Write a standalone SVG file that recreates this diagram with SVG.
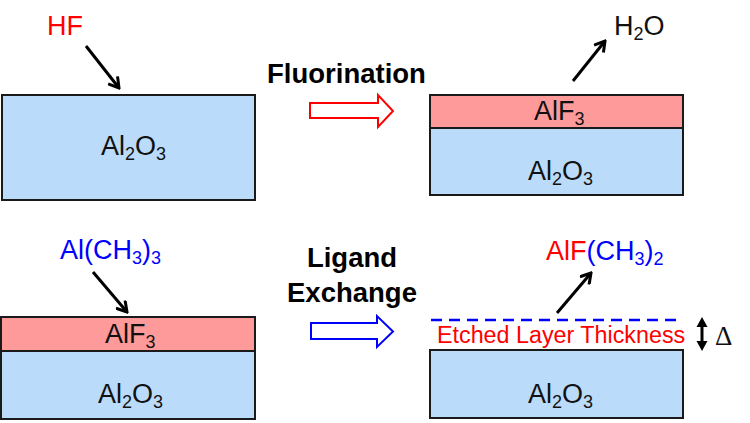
<svg xmlns="http://www.w3.org/2000/svg" width="750" height="423" viewBox="0 0 750 423">
<style>
text{font-family:"Liberation Sans",Arial,sans-serif;font-size:27px;fill:#111}
.sub{font-size:18px}
.red{fill:#ff0000}
.blue{fill:#0000ff}
.bold{font-weight:bold;fill:#000;font-size:27.5px}
.al2o3{fill:#bbdbfa;stroke:#1a1a1a;stroke-width:2}
.alf3{fill:#fe9a9a;stroke:#1a1a1a;stroke-width:2}
.conn{stroke:#000;stroke-width:3;fill:none;marker-end:url(#head)}
</style>
<defs>
<marker id="head" viewBox="0 0 14 14" refX="12" refY="7" markerWidth="14" markerHeight="14" markerUnits="userSpaceOnUse" orient="auto">
<path d="M2,1 L12,7 L2,13" fill="none" stroke="#000" stroke-width="3"/>
</marker>
</defs>

<g id="hf-label"><text x="47" y="35" class="red">HF</text></g>

<g id="substrate-1">
<rect x="2" y="95" width="253" height="105" class="al2o3"/>
<text x="101" y="155">Al<tspan class="sub" dy="5">2</tspan><tspan dy="-5">O</tspan><tspan class="sub" dy="5">3</tspan></text>
</g>

<g id="fluorination">
<text x="267" y="83" class="bold">Fluorination</text>
<polygon points="310,103 378,103 378,95 393,111 378,127 378,118 310,118" fill="#fff" stroke="#ff0000" stroke-width="2"/>
</g>

<g id="h2o-label"><text x="614" y="35">H<tspan class="sub" dy="5">2</tspan><tspan dy="-5">O</tspan></text></g>

<g id="substrate-2">
<rect x="430" y="128" width="253" height="67" class="al2o3"/>
<rect x="430" y="95" width="253" height="33" class="alf3"/>
<text x="534" y="120">AlF<tspan class="sub" dy="5">3</tspan></text>
<text x="528" y="180">Al<tspan class="sub" dy="5">2</tspan><tspan dy="-5">O</tspan><tspan class="sub" dy="5">3</tspan></text>
</g>

<g id="tma-label"><text x="60" y="259" class="blue">Al(CH<tspan class="sub" dy="5">3</tspan><tspan dy="-5">)</tspan><tspan class="sub" dy="5">3</tspan></text></g>

<g id="substrate-3">
<rect x="1" y="351" width="254" height="68" class="al2o3"/>
<rect x="1" y="317" width="254" height="34" class="alf3"/>
<text x="105" y="343">AlF<tspan class="sub" dy="5">3</tspan></text>
<text x="98" y="403">Al<tspan class="sub" dy="5">2</tspan><tspan dy="-5">O</tspan><tspan class="sub" dy="5">3</tspan></text>
</g>

<g id="ligand-exchange">
<text x="352" y="267" class="bold" text-anchor="middle">Ligand</text>
<text x="352" y="302" class="bold" text-anchor="middle">Exchange</text>
<polygon points="311,323 377,323 377,316 393,331.5 377,347 377,339 311,339" fill="#fff" stroke="#0000ff" stroke-width="2"/>
</g>

<g id="product-label"><text x="546" y="260"><tspan class="red">AlF</tspan><tspan class="blue">(CH</tspan><tspan class="sub blue" dy="5">3</tspan><tspan class="blue" dy="-5">)</tspan><tspan class="sub blue" dy="5">2</tspan></text></g>

<g id="substrate-4">
<line x1="431" y1="320" x2="678" y2="320" stroke="#0000ff" stroke-width="2.5" stroke-dasharray="11 7"/>
<text x="437" y="343" class="red" style="font-size:23.3px">Etched Layer Thickness</text>
<rect x="430" y="350" width="253" height="68" class="al2o3"/>
<text x="528" y="403">Al<tspan class="sub" dy="5">2</tspan><tspan dy="-5">O</tspan><tspan class="sub" dy="5">3</tspan></text>
</g>

<g id="thickness">
<line x1="702" y1="324" x2="702" y2="344" stroke="#000" stroke-width="3"/>
<polygon points="702,317 696.5,327 707.5,327" fill="#000"/>
<polygon points="702,351 696.5,341 707.5,341" fill="#000"/>
<text x="715" y="345" style="font-family:'Liberation Serif','Times New Roman',serif;font-size:27px">Δ</text>
</g>

<g id="connectors">
<line x1="86" y1="46" x2="119" y2="88" class="conn"/>
<line x1="573" y1="81" x2="605" y2="41" class="conn"/>
<line x1="93" y1="272" x2="127" y2="312" class="conn"/>
<line x1="557" y1="313" x2="591" y2="273" class="conn"/>
</g>
</svg>
